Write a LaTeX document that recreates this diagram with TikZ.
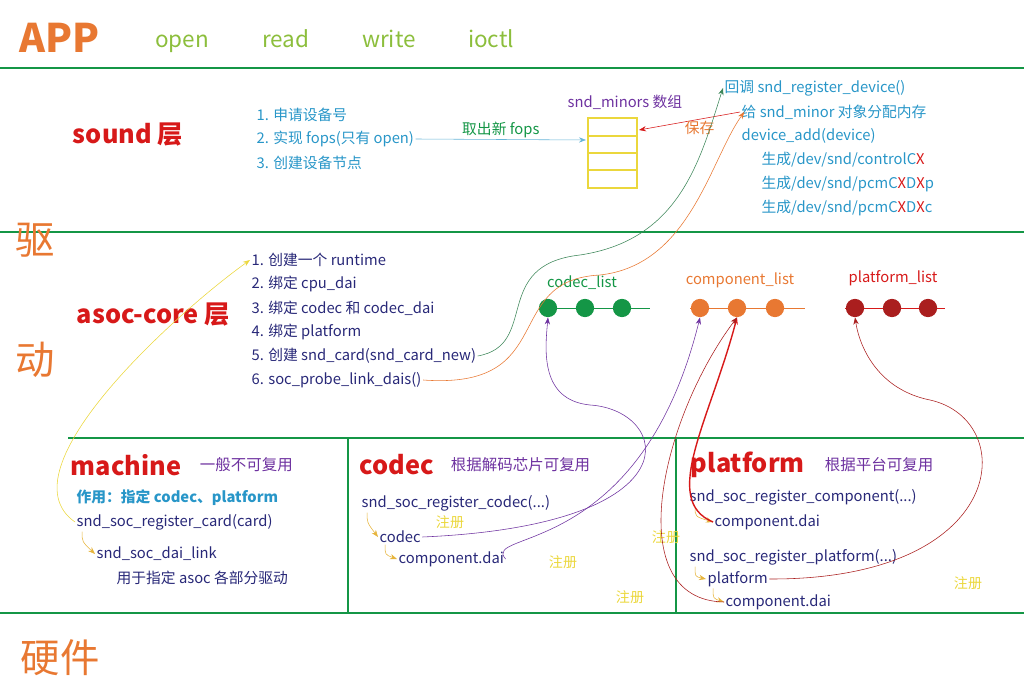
\documentclass[tikz,border=0pt]{standalone}
\usepackage{fontspec}
\setmainfont{Noto Sans CJK SC}
\usetikzlibrary{arrows.meta}
\usetikzlibrary{positioning}
\definecolor{lgreen}{RGB}{20,150,70}
\definecolor{apporange}{RGB}{232,120,50}
\definecolor{sysgreen}{RGB}{140,190,60}
\definecolor{cyantext}{RGB}{40,150,200}
\definecolor{purp}{RGB}{110,50,160}
\definecolor{navy}{RGB}{40,40,120}
\definecolor{redt}{RGB}{215,25,25}
\definecolor{dred}{RGB}{170,30,30}
\definecolor{yel}{RGB}{235,215,60}
\definecolor{yarrow}{RGB}{230,180,60}
\begin{document}
\begin{tikzpicture}[x=0.025cm,y=-0.025cm]
\tikzset{
    layer/.style={line width=1.6pt, draw=lgreen},
    big/.style={font=\fontsize{28}{30}\selectfont, text=apporange},
    sys/.style={font=\fontsize{16}{18}\selectfont, text=sysgreen, anchor=base},
    title/.style={font=\fontsize{18}{20}\selectfont\bfseries, text=redt, anchor=west},
    note/.style={font=\fontsize{11}{13}\selectfont, text=purp, anchor=west},
    txt/.style={font=\fontsize{10.5}{12}\selectfont, text=#1, anchor=west, inner sep=1pt},
    txt/.default=navy,
    dot/.style={circle, fill=#1, minimum size=13pt, inner sep=0pt},
    reg/.style={font=\fontsize{10}{12}\selectfont, text=yel},
    link/.style={-{Stealth[length=5pt]}, thin}
}
\useasboundingbox (0,0) rectangle (1024,694);
% layers
\draw[layer] (0,68) -- (1024,68);
\draw[layer] (0,232) -- (1024,232);
\draw[layer] (68,438) -- (1024,438);
\draw[layer] (0,613) -- (1024,613);
\draw[layer] (348,438) -- (348,613);
\draw[layer] (676,438) -- (676,613);

\node[big, font=\fontsize{28}{30}\selectfont\bfseries] (app) at (60,38) {APP};
\node[sys] (open) at (182,48) {open};
\node[sys] (read) at (286,48) {read};
\node[sys] (write) at (389,48) {write};
\node[sys] (ioctl) at (491,48) {ioctl};
\node[big] (qu) at (35,240) {驱};
\node[big] (dong) at (35,360) {动};
\node[big] (hw) at (60,658) {硬件};

% sound layer
\node[title] (sound) at (68,135) {sound 层};
\node[txt=cyantext] (s1) at (255,115) {1. 申请设备号};
\node[txt=cyantext] (s2) at (255,139) {2. 实现 fops(只有 open)};
\node[txt=cyantext] (s3) at (255,163) {3. 创建设备节点};
\node[txt=purp] (minors) at (566,102) {snd\_minors 数组};
\draw[yel, line width=1.2pt] (588,118) rectangle (637,188);
\foreach \y in {136,153,170} \draw[yel, line width=1.2pt] (588,\y) -- (637,\y);
\coordinate (arr) at (586,140);
\coordinate (arrR) at (639,130);
\draw[link, cyantext!70] (s2.east) -- node[above, txt=lgreen, anchor=south] {取出新 fops} (arr);
\node[txt=cyantext] (cb) at (723,88) {回调 snd\_register\_device()};
\node[txt=cyantext] (give) at (740,112) {给 snd\_minor 对象分配内存};
\node[txt=cyantext] (dadd) at (740,136) {device\_add(device)};
\node[txt=cyantext] (g1) at (760,160) {生成/dev/snd/controlC\textcolor{redt}{X}};
\node[txt=cyantext] (g2) at (760,184) {生成/dev/snd/pcmC\textcolor{redt}{X}D\textcolor{redt}{X}p};
\node[txt=cyantext] (g3) at (760,208) {生成/dev/snd/pcmC\textcolor{redt}{X}D\textcolor{redt}{X}c};
\draw[link, redt] (give.west) -- node[below, txt=apporange, anchor=north, pos=0.4] {保存} (arrR);

% asoc-core layer
\node[title] (asoc) at (72,315) {asoc-core 层};
\node[txt] (a1) at (250,260) {1. 创建一个 runtime};
\node[txt] (a2) at (250,284) {2. 绑定 cpu\_dai};
\node[txt] (a3) at (250,308) {3. 绑定 codec 和 codec\_dai};
\node[txt] (a4) at (250,332) {4. 绑定 platform};
\node[txt] (a5) at (250,356) {5. 创建 snd\_card(snd\_card\_new)};
\node[txt] (a6) at (250,380) {6. soc\_probe\_link\_dais()};

\node[txt=lgreen, anchor=center] (codeclist) at (582,283) {codec\_list};
\node[txt=apporange, anchor=center] (complist) at (740,280) {component\_list};
\node[txt=redt, anchor=center] (platlist) at (893,278) {platform\_list};
\draw[lgreen] (540,308) -- (650,308);
\draw[apporange] (690,308) -- (805,308);
\draw[redt] (845,308) -- (945,308);
\node[dot=lgreen] (c1) at (548,308) {};
\node[dot=lgreen] (c2) at (585,308) {};
\node[dot=lgreen] (c3) at (622,308) {};
\node[dot=apporange] (o1) at (700,308) {};
\node[dot=apporange] (o2) at (737,308) {};
\node[dot=apporange] (o3) at (775,308) {};
\node[dot=dred] (p1) at (855,308) {};
\node[dot=dred] (p2) at (892,308) {};
\node[dot=dred] (p3) at (928,308) {};

% machine
\node[title] (machine) at (66,465) {machine};
\node[note] (mnote) at (195,465) {一般不可复用};
\node[txt=cyantext] (use) at (75,498) {\bfseries 作用：指定 codec、platform};
\node[txt] (regcard) at (75,522) {snd\_soc\_register\_card(card)};
\node[txt] (dailink) at (95,554) {snd\_soc\_dai\_link};
\node[txt] (usefor) at (115,578) {用于指定 asoc 各部分驱动};
% codec
\node[title] (codec) at (355,465) {codec};
\node[note] (cnote) at (446,465) {根据解码芯片可复用};
\node[txt] (regcodec) at (360,503) {snd\_soc\_register\_codec(...)};
\node[txt] (cdc) at (378,537) {codec};
\node[txt] (cdai) at (397,559) {component.dai};
% platform
\node[title] (platform) at (686,465) {platform};
\node[note] (pnote) at (820,465) {根据平台可复用};
\node[txt] (regcomp) at (688,497) {snd\_soc\_register\_component(...)};
\node[txt] (pdai1) at (713,522) {component.dai};
\node[txt] (regplat) at (688,557) {snd\_soc\_register\_platform(...)};
\node[txt] (plat) at (706,579) {platform};
\node[txt] (pdai2) at (724,602) {component.dai};

\node[reg] (r1) at (450,522) {注册};
\node[reg] (r2) at (563,562) {注册};
\node[reg] (r3) at (630,597) {注册};
\node[reg] (r4) at (666,537) {注册};
\node[reg] (r5) at (968,583) {注册};

% small bent arrows
\foreach \a/\b in {regcard/dailink, regcodec/cdc, cdc/cdai, regcomp/pdai1, regplat/plat, plat/pdai2}
  \draw[link, yarrow] ([xshift=5pt]\a.south west) .. controls +(0,10) .. (\b.west);

% connectors
\draw[link, yel] (regcard.west) .. controls (0,470) and (180,310) .. (a1.west);
\draw[link, lgreen!70!black!80] (a5.east) .. controls (540,345) and (490,265) .. (580,255) .. controls (680,240) and (700,160) .. (cb.west);
\draw[link, apporange] (a6.east) .. controls (560,390) and (500,280) .. (600,275) .. controls (690,265) and (710,160) .. ([xshift=3pt]give.west);
\draw[link, purp] (cdc.east) .. controls (700,525) and (670,410) .. (590,405) .. controls (540,400) and (545,350) .. (c1.south);
\draw[link, purp] (cdai.east) .. controls (480,530) and (640,560) .. (o1.south);
\draw[link, redt, line width=1pt] (pdai1.west) .. controls (660,500) and (710,420) .. (o2.south);
\draw[link, dred] (pdai2.west) .. controls (620,600) and (660,420) .. (o2.south);
\draw[link, dred] (plat.east) .. controls (1010,580) and (1020,420) .. (930,400) .. controls (880,390) and (860,350) .. (p1.south);
\end{tikzpicture}
\end{document}
